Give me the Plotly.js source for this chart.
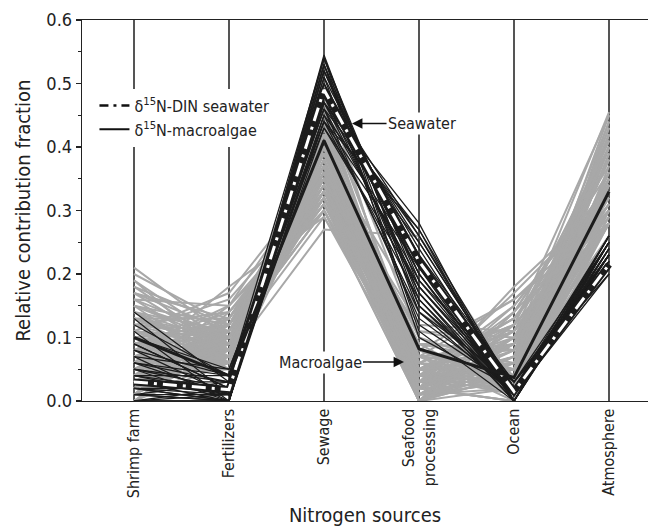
<!DOCTYPE html>
<html><head><meta charset="utf-8">
<script src="https://cdn.plot.ly/plotly-3.0.1.min.js"></script>
<style>html,body{margin:0;padding:0;background:#fff;}</style>
</head><body>
<div id="chart" style="width:648px;height:527px;"></div>
<script>
const categories = ['Shrimp farm','Fertilizers','Sewage','Seafood processing','Ocean','Atmosphere'];
const tickLabels = ['Shrimp farm','Fertilizers','Sewage','Seafood<br>processing','Ocean','Atmosphere'];

// macroalgae posterior samples (gray)
const grayShrimp = [0.21,0.19,0.18,0.17,0.16,0.15,0.15,0.14,0.14,0.13, 0.13,0.12,0.12,0.11,0.11,0.11,0.10,0.10,0.10,0.09, 0.09,0.09,0.08,0.08,0.08,0.07,0.07,0.07,0.06,0.06, 0.06,0.05,0.05,0.05,0.04,0.04,0.04,0.03,0.03,0.03, 0.02,0.02,0.02,0.01,0.01,0.01,0.00,0.00,0.00,0.16, 0.18,0.20,0.14,0.11,0.09,0.06,0.04,0.13,0.08,0.10,
  0.19,0.17,0.16,0.15,0.14,0.13,0.12,0.12,0.11,0.10, 0.10,0.09,0.09,0.08,0.08,0.07,0.07,0.06,0.06,0.05, 0.05,0.04,0.04,0.03,0.03,0.02,0.02,0.01,0.01,0.00, 0.00,0.15,0.13,0.11,0.09,0.07,0.05,0.03,0.17,0.12];
const grayFert = [0.10,0.06,0.12,0.08,0.15,0.09,0.05,0.11,0.07,0.13, 0.08,0.10,0.06,0.07,0.16,0.09,0.07,0.12,0.05,0.10, 0.08,0.14,0.06,0.11,0.09,0.07,0.13,0.05,0.10,0.18, 0.08,0.12,0.06,0.09,0.07,0.11,0.15,0.08,0.10,0.06, 0.09,0.13,0.07,0.10,0.08,0.12,0.09,0.11,0.07,0.10, 0.08,0.12,0.06,0.17,0.04,0.09,0.05,0.09,0.12,0.08,
  0.09,0.11,0.07,0.12,0.09,0.06,0.14,0.08,0.10,0.06, 0.11,0.07,0.12,0.08,0.15,0.09,0.06,0.11,0.07,0.10, 0.13,0.08,0.10,0.12,0.07,0.11,0.08,0.09,0.14,0.10, 0.06,0.10,0.10,0.05,0.13,0.10,0.07,0.09,0.13,0.11];
const graySewage = [0.36,0.40,0.33,0.38,0.30,0.33,0.42,0.31,0.37,0.34, 0.40,0.36,0.44,0.27,0.33,0.39,0.41,0.35,0.46,0.32, 0.36,0.30,0.43,0.37,0.32,0.40,0.33,0.48,0.36,0.29, 0.39,0.31,0.42,0.35,0.45,0.33,0.37,0.40,0.30,0.47, 0.38,0.34,0.43,0.36,0.41,0.32,0.39,0.35,0.44,0.38, 0.32,0.31,0.50,0.36,0.36,0.33,0.40,0.29,0.39,0.33,
  0.35,0.36,0.39,0.32,0.34,0.38,0.31,0.35,0.37,0.40, 0.33,0.42,0.35,0.37,0.32,0.41,0.36,0.34,0.43,0.37, 0.35,0.39,0.32,0.38,0.42,0.35,0.40,0.37,0.33,0.41, 0.36,0.36,0.30,0.44,0.37,0.30,0.46,0.34,0.34,0.39];
const graySeafood = [0.02,0.05,0.01,0.04,0.00,0.05,0.03,0.02,0.08,0.00, 0.05,0.03,0.06,0.26,0.01,0.10,0.02,0.04,0.07,0.00, 0.11,0.03,0.05,0.02,0.07,0.03,0.06,0.10,0.00,0.04, 0.14,0.02,0.01,0.07,0.04,0.05,0.02,0.09,0.00,0.06, 0.03,0.11,0.01,0.04,0.06,0.00,0.08,0.02,0.05,0.00, 0.05,0.03,0.02,0.01,0.12,0.03,0.00,0.02,0.07,0.05,
  0.04,0.01,0.06,0.02,0.05,0.00,0.04,0.09,0.00,0.04, 0.06,0.01,0.08,0.04,0.01,0.07,0.02,0.09,0.03,0.00, 0.06,0.02,0.08,0.01,0.05,0.07,0.00,0.03,0.09,0.01, 0.06,0.08,0.03,0.00,0.02,0.05,0.03,0.04,0.03,0.01];
const grayOcean = [0.03,0.02,0.08,0.05,0.04,0.10,0.02,0.12,0.04,0.06, 0.01,0.07,0.02,0.03,0.03,0.05,0.00,0.09,0.02,0.04, 0.08,0.14,0.01,0.06,0.16,0.03,0.11,0.02,0.07,0.05, 0.04,0.18,0.02,0.09,0.01,0.13,0.00,0.06,0.12,0.03, 0.08,0.10,0.05,0.15,0.02,0.09,0.04,0.11,0.06,0.06, 0.09,0.04,0.00,0.05,0.11,0.17,0.14,0.07,0.00,0.13,
  0.05,0.07,0.03,0.08,0.05,0.10,0.03,0.08,0.02,0.12, 0.05,0.10,0.02,0.13,0.04,0.08,0.15,0.01,0.10,0.05, 0.12,0.07,0.16,0.03,0.11,0.05,0.14,0.06,0.08,0.10, 0.12,0.03,0.11,0.07,0.09,0.06,0.04,0.09,0.05,0.09];
const grayAtm = [0.28,0.28,0.28,0.28,0.35,0.28,0.33,0.30,0.30,0.34, 0.33,0.32,0.30,0.26,0.36,0.26,0.40,0.30,0.30,0.45, 0.28,0.30,0.37,0.36,0.28,0.40,0.30,0.28,0.41,0.38, 0.29,0.32,0.44,0.35,0.39,0.34,0.42,0.34,0.45,0.35, 0.40,0.30,0.42,0.34,0.42,0.455,0.40,0.41,0.38,0.30, 0.28,0.30,0.28,0.30,0.28,0.32,0.37,0.40,0.34,0.31,
  0.28,0.28,0.29,0.31,0.33,0.33,0.36,0.28,0.40,0.28, 0.35,0.31,0.34,0.30,0.40,0.28,0.34,0.39,0.31,0.43, 0.29,0.40,0.30,0.43,0.32,0.40,0.36,0.44,0.35,0.38, 0.40,0.28,0.33,0.33,0.30,0.42,0.35,0.41,0.28,0.28];

// seawater posterior samples (black)
const blackShrimp = [0.14,0.12,0.11,0.10,0.09,0.08,0.08,0.07,0.06,0.06, 0.05,0.05,0.04,0.04,0.04,0.03,0.03,0.03,0.02,0.02, 0.02,0.02,0.01,0.01,0.01,0.01,0.00,0.00,0.00,0.00, 0.13,0.07,0.05,0.09,0.06];
const blackFert = [0.03,0.04,0.00,0.05,0.02,0.01,0.04,0.00,0.03,0.01, 0.02,0.00,0.04,0.01,0.02,0.00,0.03,0.01,0.00,0.02, 0.01,0.00,0.03,0.00,0.01,0.00,0.02,0.00,0.01,0.00, 0.01,0.05,0.03,0.02,0.04];
const blackSewage = [0.45,0.46,0.48,0.44,0.47,0.50,0.46,0.49,0.51,0.47, 0.52,0.45,0.50,0.53,0.48,0.54,0.49,0.44,0.52,0.47, 0.545,0.50,0.46,0.53,0.48,0.51,0.54,0.49,0.52,0.47, 0.43,0.43,0.44,0.53,0.54];
const blackSeafood = [0.14,0.13,0.17,0.16,0.18,0.15,0.19,0.20,0.12,0.22, 0.17,0.25,0.20,0.14,0.23,0.16,0.24,0.27,0.21,0.26, 0.15,0.23,0.27,0.19,0.25,0.22,0.18,0.26,0.20,0.28, 0.18,0.21,0.22,0.10,0.11];
const blackOcean = [0.01,0.02,0.01,0.00,0.02,0.01,0.03,0.00,0.02,0.01, 0.00,0.02,0.01,0.03,0.00,0.01,0.01,0.02,0.00,0.01, 0.02,0.03,0.00,0.01,0.02,0.00,0.01,0.02,0.01,0.00, 0.01,0.02,0.03,0.02,0.00];
const blackAtm = [0.23,0.23,0.23,0.25,0.22,0.25,0.20,0.24,0.26,0.23, 0.24,0.23,0.21,0.25,0.23,0.26,0.20,0.23,0.25,0.22, 0.25,0.22,0.23,0.26,0.23,0.26,0.25,0.23,0.26,0.25, 0.24,0.22,0.23,0.24,0.25];

// mean solutions
const seawaterMean = [0.03, 0.018, 0.49, 0.22, 0.015, 0.215];
const macroalgaeMean = [0.10, 0.04, 0.41, 0.082, 0.037, 0.33];

const FONT = "'Liberation Sans Narrow', 'Arial Narrow', 'DejaVu Sans Condensed', sans-serif";
const xIdx = categories.map((c, i) => i);

function buildGroup(cols) {
  const x = [], y = [];
  const n = cols[0].length;
  for (let i = 0; i < n; i++) {
    for (let j = 0; j < cols.length; j++) { x.push(xIdx[j]); y.push(cols[j][i]); }
    x.push(null); y.push(null);
  }
  return {x, y};
}

const g = buildGroup([grayShrimp, grayFert, graySewage, graySeafood, grayOcean, grayAtm]);
const b = buildGroup([blackShrimp, blackFert, blackSewage, blackSeafood, blackOcean, blackAtm]);

const traces = [
  {x: g.x, y: g.y, mode: 'lines', line: {color: '#a8a8a8', width: 2}, showlegend: false, hoverinfo: 'skip', connectgaps: false},
  {x: b.x, y: b.y, mode: 'lines', line: {color: '#1c1c1c', width: 1.3}, showlegend: false, hoverinfo: 'skip', connectgaps: false},
  {x: xIdx, y: seawaterMean, mode: 'lines', line: {color: '#1c1c1c', width: 7}, showlegend: false, hoverinfo: 'skip'},
  {x: xIdx, y: seawaterMean, mode: 'lines', line: {color: '#ffffff', width: 3, dash: '14px,6px,3px,6px'}, showlegend: false, hoverinfo: 'skip'},
  {x: xIdx, y: macroalgaeMean, mode: 'lines', line: {color: '#1c1c1c', width: 3}, showlegend: false, hoverinfo: 'skip'},
  {x: [null], y: [null], mode: 'lines', name: 'δ<sup>15</sup>N-DIN seawater', line: {color: '#111', width: 2.5, dash: '9px,5px,3px,5px'}},
  {x: [null], y: [null], mode: 'lines', name: 'δ<sup>15</sup>N-macroalgae', line: {color: '#111', width: 2}}
];

const layout = {
  width: 648, height: 527,
  margin: {l: 82, r: 0, t: 20, b: 126},
  paper_bgcolor: '#fff', plot_bgcolor: '#fff',
  font: {family: FONT, color: '#222'},
  showlegend: true,
  legend: {x: 0.022, y: 0.82, xanchor: 'left', yanchor: 'top', bgcolor: '#fff', borderwidth: 0,
           font: {family: FONT, size: 16, color: '#222'}, tracegroupgap: 0, itemwidth: 30},
  xaxis: {
    range: [-0.547, 5.41], tickvals: xIdx, ticktext: tickLabels, tickangle: -90,
    tickfont: {family: FONT, size: 16, color: '#222'},
    showgrid: true, gridcolor: '#555', gridwidth: 1.3,
    showline: true, linecolor: '#222', linewidth: 1.3, mirror: true,
    ticks: '', zeroline: false,
    title: {text: 'Nitrogen sources', font: {family: FONT, size: 20, color: '#222'}, standoff: 14}
  },
  yaxis: {
    range: [0, 0.6], dtick: 0.1, tickformat: '.1f',
    ticks: 'outside', ticklen: 5, tickwidth: 1.2, tickcolor: '#222',
    minor: {dtick: 0.05, ticks: 'outside', ticklen: 3, tickcolor: '#222'},
    tickfont: {family: FONT, size: 18, color: '#222'},
    showline: true, linecolor: '#222', linewidth: 1.3, mirror: false,
    showgrid: false, zeroline: false,
    title: {text: 'Relative contribution fraction', font: {family: FONT, size: 20, color: '#222'}, standoff: 10}
  },
  annotations: [
    {x: 2.295, y: 0.437, xref: 'x', yref: 'y', text: 'Seawater', showarrow: true,
     ax: 70, ay: 0, axref: 'pixel', ayref: 'pixel', arrowhead: 2, arrowsize: 1.3, arrowwidth: 1.6, arrowcolor: '#111',
     bgcolor: '#fff', font: {family: FONT, size: 16, color: '#222'}, standoff: 0},
    {x: 2.842, y: 0.0614, xref: 'x', yref: 'y', text: 'Macroalgae', showarrow: true,
     ax: -84, ay: 0, axref: 'pixel', ayref: 'pixel', arrowhead: 2, arrowsize: 1.3, arrowwidth: 1.6, arrowcolor: '#111',
     bgcolor: '#fff', font: {family: FONT, size: 16, color: '#222'}, standoff: 0}
  ]
};

Plotly.newPlot('chart', traces, layout, {displayModeBar: false, staticPlot: true});
</script>
</body></html>
